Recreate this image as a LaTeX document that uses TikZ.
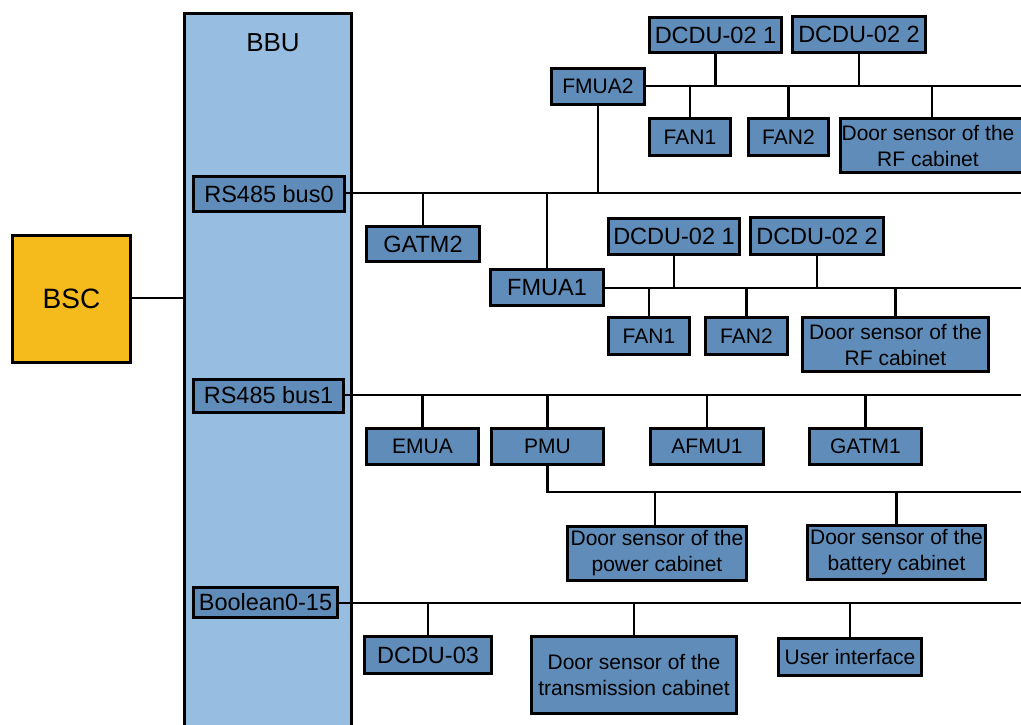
\documentclass[tikz,border=0pt]{standalone}
\usepackage{fontspec}
\setmainfont{Liberation Sans}
\definecolor{unitblue}{HTML}{5F8CB9}
\definecolor{bbublue}{HTML}{97BDE0}
\definecolor{bscyellow}{HTML}{F5BA1C}
\tikzset{
  unit/.style={draw=black, line width=3pt, fill=unitblue, inner sep=0pt,
    align=center, font=\fontsize{21}{26}\selectfont},
  bigunit/.style={unit, font=\fontsize{23.5}{28}\selectfont},
  wire/.style={draw=black, line width=2.2pt},
}
\begin{document}
\begin{tikzpicture}[x=1pt,y=-1pt]
\useasboundingbox (0,0) rectangle (1021,724);

% BBU cabinet and BSC
\node[draw=black, line width=3pt, fill=bbublue, minimum width=167, minimum height=730, inner sep=0pt] (bbu) at (268,378) {};
\node[font=\fontsize{26}{30}\selectfont] (bbulabel) at (273,43) {BBU};
\node[draw=black, line width=3pt, fill=bscyellow, minimum width=118, minimum height=127, inner sep=0pt, font=\fontsize{28}{32}\selectfont] (bsc) at (71.5,299) {BSC};
\draw[wire] (bsc.east |- 0,298) -- (bbu.west |- 0,298);

% BBU ports
\node[bigunit, minimum width=151, minimum height=35] (bus0) at (269,194) {RS485 bus0};
\node[bigunit, minimum width=150, minimum height=33] (bus1) at (268.5,395.5) {RS485 bus1};
\node[bigunit, minimum width=144, minimum height=30] (bool) at (265.5,602.5) {Boolean0-15};

% bus lines
\coordinate (b0end) at (1030,193);
\coordinate (b1end) at (1030,395);
\coordinate (bbend) at (1030,603);
\draw[wire] (bus0.east |- b0end) -- (b0end);
\draw[wire] (bus1.east |- b1end) -- (b1end);
\draw[wire] (bool.east |- bbend) -- (bbend);

% RS485 bus0 devices
\node[bigunit, minimum width=113, minimum height=35] (gatm2) at (423,244) {GATM2};
\node[bigunit, minimum width=113, minimum height=36] (fmua1) at (547,287.5) {FMUA1};
\node[unit, minimum width=93, minimum height=36] (fmua2) at (598,86.5) {FMUA2};
\draw[wire] (gatm2.north) -- (gatm2.north |- b0end);
\draw[wire] (fmua1.north) -- (fmua1.north |- b0end);
\draw[wire] (fmua2.south) -- (fmua2.south |- b0end);

% FMUA2 branch
\coordinate (f2end) at (1030,86);
\draw[wire] (fmua2.east |- f2end) -- (f2end);
\node[bigunit, minimum width=132, minimum height=35] (dcduA) at (715.5,35) {DCDU-02 1};
\node[bigunit, minimum width=133, minimum height=36] (dcduB) at (859,34.5) {DCDU-02 2};
\node[unit, minimum width=81, minimum height=37] (fanA) at (690,137) {FAN1};
\node[unit, minimum width=80, minimum height=37] (fanB) at (788.5,137) {FAN2};
\node[unit, minimum width=200, minimum height=54, anchor=west] (rfA) at (838.5,145.5) {};
\node[font=\fontsize{21}{26}\selectfont, align=center, inner sep=0pt] (rfAtext) at (928,145.5) {Door sensor of the\\RF cabinet};
\draw[wire] (dcduA.south) -- (dcduA.south |- f2end);
\draw[wire] (dcduB.south) -- (dcduB.south |- f2end);
\draw[wire] (fanA.north) -- (fanA.north |- f2end);
\draw[wire] (fanB.north) -- (fanB.north |- f2end);
\draw[wire] ([xshift=4pt]rfAtext.north |- rfA.north) -- ([xshift=4pt]rfAtext.north |- f2end);

% FMUA1 branch
\coordinate (f1end) at (1030,288);
\draw[wire] (fmua1.east |- f1end) -- (f1end);
\node[bigunit, minimum width=131, minimum height=36] (dcduC) at (674,236.5) {DCDU-02 1};
\node[bigunit, minimum width=133, minimum height=37] (dcduD) at (817,236) {DCDU-02 2};
\node[unit, minimum width=81, minimum height=37] (fanC) at (649,336) {FAN1};
\node[unit, minimum width=82, minimum height=37] (fanD) at (746.5,336) {FAN2};
\node[unit, minimum width=186, minimum height=54] (rfB) at (895.5,344.5) {Door sensor of the\\RF cabinet};
\draw[wire] (dcduC.south) -- (dcduC.south |- f1end);
\draw[wire] (dcduD.south) -- (dcduD.south |- f1end);
\draw[wire] (fanC.north) -- (fanC.north |- f1end);
\draw[wire] (fanD.north) -- (fanD.north |- f1end);
\draw[wire] (rfB.north) -- (rfB.north |- f1end);

% RS485 bus1 devices
\node[unit, minimum width=112, minimum height=36] (emua) at (422.5,446.5) {EMUA};
\node[unit, minimum width=112, minimum height=36] (pmu) at (547.5,446.5) {PMU};
\node[unit, minimum width=113, minimum height=36] (afmu) at (707,446.5) {AFMU1};
\node[unit, minimum width=112, minimum height=36] (gatm1) at (865.5,446.5) {GATM1};
\foreach \n in {emua,pmu,afmu,gatm1}
  \draw[wire] (\n.north) -- (\n.north |- b1end);

% PMU door sensors
\coordinate (pend) at (1030,492);
\draw[wire] (pmu.south) -- (pmu.south |- pend) -- (pend);
\node[unit, minimum width=179, minimum height=54] (dpower) at (657,553.5) {Door sensor of the\\power cabinet};
\node[unit, minimum width=178, minimum height=54] (dbatt) at (896.5,552.5) {Door sensor of the\\battery cabinet};
\draw[wire] ([xshift=-2pt]dpower.north) -- ([xshift=-2pt]dpower.north |- pend);
\draw[wire] (dbatt.north) -- (dbatt.north |- pend);

% Boolean inputs
\node[bigunit, minimum width=127, minimum height=37] (dcdu3) at (428,655) {DCDU-03};
\node[unit, minimum width=205, minimum height=77] (dtrans) at (634,675) {Door sensor of the\\transmission cabinet};
\node[unit, minimum width=143, minimum height=37] (uif) at (850,657) {User interface};
\foreach \n in {dcdu3,dtrans,uif}
  \draw[wire] (\n.north) -- (\n.north |- bbend);
\end{tikzpicture}
\end{document}
